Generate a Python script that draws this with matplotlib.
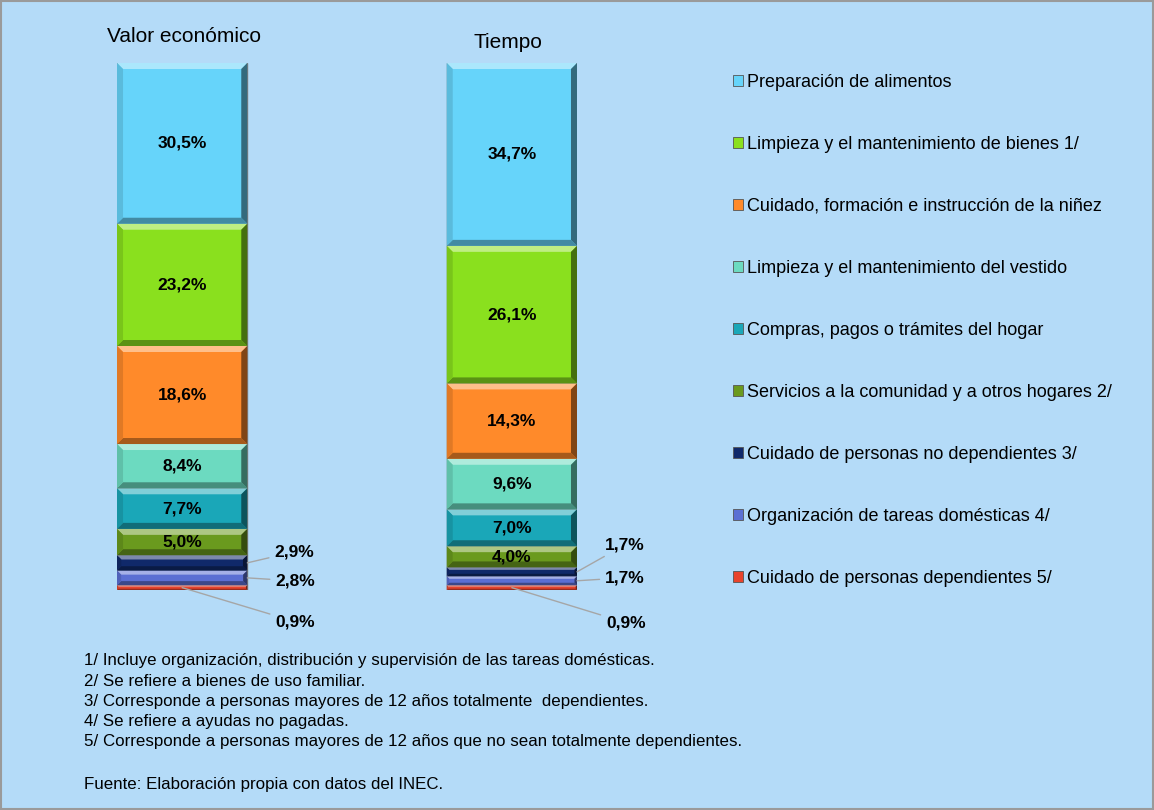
import numpy as np
import matplotlib
matplotlib.use('Agg')
import matplotlib.pyplot as plt
from matplotlib.colors import to_rgb
from matplotlib.patches import Patch, Rectangle, Polygon

plt.rcParams['font.family'] = ['Liberation Sans', 'DejaVu Sans']

# Data (stack order from top to bottom, as in the legend)
categories = [
    'Preparación de alimentos',
    'Limpieza y el mantenimiento de bienes 1/',
    'Cuidado, formación e instrucción de la niñez',
    'Limpieza y el mantenimiento del vestido',
    'Compras, pagos o trámites del hogar',
    'Servicios a la comunidad y a otros hogares 2/',
    'Cuidado de personas no dependientes 3/',
    'Organización de tareas domésticas 4/',
    'Cuidado de personas dependientes 5/',
]
groups = ['Valor económico', 'Tiempo']
valor = [30.5, 23.2, 18.6, 8.4, 7.7, 5.0, 2.9, 2.8, 0.9]
tiempo = [34.7, 26.1, 14.3, 9.6, 7.0, 4.0, 1.7, 1.7, 0.9]
colors = ['#66D4FA', '#8AE01E', '#FF8A2A', '#6CDAC0', '#1AA7B8',
          '#6A9A1E', '#10296A', '#5B6FD3', '#E8432C']

footnotes = [
    '1/ Incluye organización, distribución y supervisión de las tareas domésticas.',
    '2/ Se refiere a bienes de uso familiar.',
    '3/ Corresponde a personas mayores de 12 años totalmente  dependientes.',
    '4/ Se refiere a ayudas no pagadas.',
    '5/ Corresponde a personas mayores de 12 años que no sean totalmente dependientes.',
]
source = 'Fuente: Elaboración propia con datos del INEC.'

bg = '#B4DBF8'
W, H = 1154, 810
fig = plt.figure(figsize=(W / 100, H / 100), dpi=100, facecolor=bg)

# bars: Valor centre x=182px, Tiempo centre x=511px, width 130px, y 63..590px
px_x = 1 / 329          # data units per pixel (x)
px_y = 100 / 527        # data units per pixel (y)
width = 130 * px_x
left_px, right_px = 117, 577
ax = fig.add_axes([left_px / W, (H - 590) / H, (right_px - left_px) / W, (590 - 63) / H])
ax.set_xlim(-width / 2, 1 + width / 2)
ax.set_ylim(0, 100)
ax.axis('off')
ax.set_facecolor('none')


def fmt(v):
    return f'{v:.1f}%'.replace('.', ',')


def shade(c, f):
    c = np.array(to_rgb(c))
    if f > 0:
        return tuple(c + (1 - c) * f)
    return tuple(c * (1 + f))


def bevel(rect, color):
    # fake 3D bevel like the office chart style
    x, y, w, h = rect.get_x(), rect.get_y(), rect.get_width(), rect.get_height()
    bx = 6 * px_x
    by = min(6 * px_y, h * 0.28)
    bxs = min(bx, by / px_y * px_x) if h * 0.28 < 6 * px_y else bx
    x1, y1 = x + w, y + h
    sides = [
        ([(x, y1), (x1, y1), (x1 - bxs, y1 - by), (x + bxs, y1 - by)], shade(color, 0.45)),
        ([(x, y), (x1, y), (x1 - bxs, y + by), (x + bxs, y + by)], shade(color, -0.35)),
        ([(x, y), (x, y1), (x + bxs, y1 - by), (x + bxs, y + by)], shade(color, -0.12)),
        ([(x1, y), (x1, y1), (x1 - bxs, y1 - by), (x1 - bxs, y + by)], shade(color, -0.5)),
    ]
    for pts, c in sides:
        ax.add_patch(Polygon(pts, closed=True, facecolor=c, edgecolor='none', zorder=2.5))


title_offsets = [(2, 26), (-4, 21)]   # pixels (dx, dy above bar top)

series = [valor, tiempo]
for gi, vals in enumerate(series):
    rev = vals[::-1]
    cols = colors[::-1]
    bottoms = np.concatenate([[0], np.cumsum(rev)[:-1]])
    bars = ax.bar(gi, rev, width=width, bottom=bottoms, color=cols,
                  edgecolor='#808080', linewidth=1.0, zorder=2)
    for rect, c in zip(bars, cols):
        bevel(rect, c)
    for v, b in zip(rev, bottoms):
        if v >= 4:
            ax.text(gi, b + v / 2, fmt(v), ha='center', va='center', zorder=3,
                    fontsize=12.5, fontweight='bold', color='black')
    # small segments labelled outside with leader lines
    small = [(rev[2], bottoms[2], gi + width / 2, (47, 11) if gi == 0 else (48, 27)),
             (rev[1], bottoms[1], gi + width / 2, (48, -3) if gi == 0 else (48, 3)),
             (rev[0], bottoms[0], gi, (113, -34) if gi == 0 else (114, -35))]
    for v, b, x0, off in small:
        ax.annotate(fmt(v), xy=(x0, b + v / 2), xytext=off,
                    textcoords='offset pixels', ha='center', va='center',
                    fontsize=12.5, fontweight='bold', annotation_clip=False,
                    arrowprops=dict(arrowstyle='-', color='#a6a6a6', lw=1,
                                    shrinkA=2, shrinkB=0))
    dx, dy = title_offsets[gi]
    ax.text(gi + dx * px_x, 100 + dy * px_y, groups[gi], ha='center', va='center',
            fontsize=15, clip_on=False)

# legend
handles = [Patch(facecolor=c, edgecolor='#555555', linewidth=0.6) for c in colors]
fig.legend(handles, categories, loc='upper left', bbox_to_anchor=(733 / W, 1 - 74 / H),
           frameon=False, fontsize=13, handlelength=0.55, handleheight=0.55,
           handletextpad=0.25, labelspacing=2.49, borderpad=0, borderaxespad=0)

# footnotes
for i, line in enumerate(footnotes):
    fig.text(84 / W, 1 - (661 + i * 20.2) / H, line, fontsize=12.2, va='center', ha='left')
fig.text(84 / W, 1 - 784 / H, source, fontsize=12.2, va='center', ha='left')

# figure border
fig.patches.append(Rectangle((0.001, 0.001), 0.998, 0.998, transform=fig.transFigure,
                             fill=False, edgecolor='#9a9a9a', linewidth=1.5))

fig.savefig('out.png', dpi=100, facecolor=bg)
